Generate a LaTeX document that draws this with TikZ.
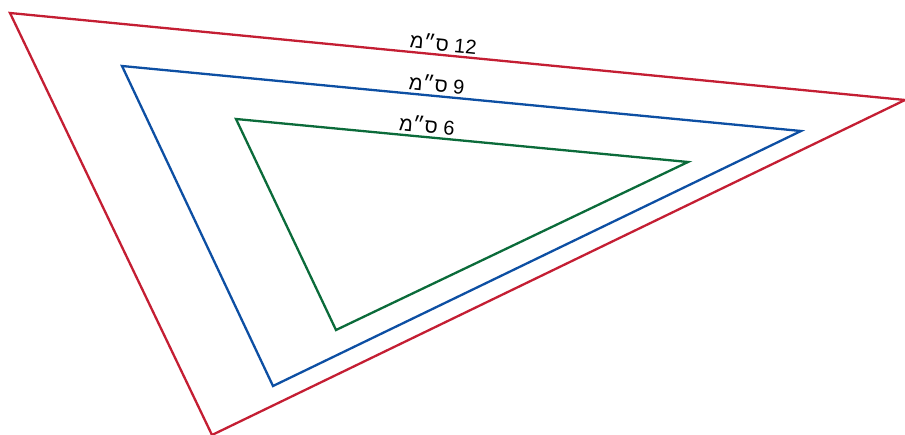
\documentclass[tikz,border=0pt]{standalone}
\usepackage{fontspec}
\usepackage{xcolor}
\usepackage{tikz}
\newfontfamily\hebfont[Script=Hebrew]{Liberation Sans}
\TeXXeTstate=1
\definecolor{triRed}{HTML}{C41E33}
\definecolor{triBlue}{HTML}{0D4FA3}
\definecolor{triGreen}{HTML}{0B6B3A}

\begin{document}
\begin{tikzpicture}[
    x=1pt, y=-1pt,
    side/.style={line width=2.3pt, line join=miter},
    len/.style={font=\hebfont\fontsize{20}{23}\selectfont, sloped, above, inner sep=3.5pt}
]
\useasboundingbox (0,0) rectangle (905,435);

% Triangle corners.
\coordinate (r1) at (10,13);
\coordinate (r2) at (905,100);
\coordinate (r3) at (212,435);
\coordinate (b1) at (122,66);
\coordinate (b2) at (801,131);
\coordinate (b3) at (273,386);
\coordinate (g1) at (236,119);
\coordinate (g2) at (688,162);
\coordinate (g3) at (336,330);

% Three nested triangles.
\draw[side, triRed] (r1) -- (r2) -- (r3) -- cycle;
\draw[side, triBlue] (b1) -- (b2) -- (b3) -- cycle;
\draw[side, triGreen] (g1) -- (g2) -- (g3) -- cycle;

% Side lengths.
\path (r1) -- node[len, pos=0.483] (lred) {\beginR\beginL 12\endL{} ס״מ\endR} (r2);
\path (b1) -- node[len, pos=0.462] (lblue) {\beginR\beginL 9\endL{} ס״מ\endR} (b2);
\path (g1) -- node[len, pos=0.42] (lgreen) {\beginR\beginL 6\endL{} ס״מ\endR} (g2);
\end{tikzpicture}
\end{document}
